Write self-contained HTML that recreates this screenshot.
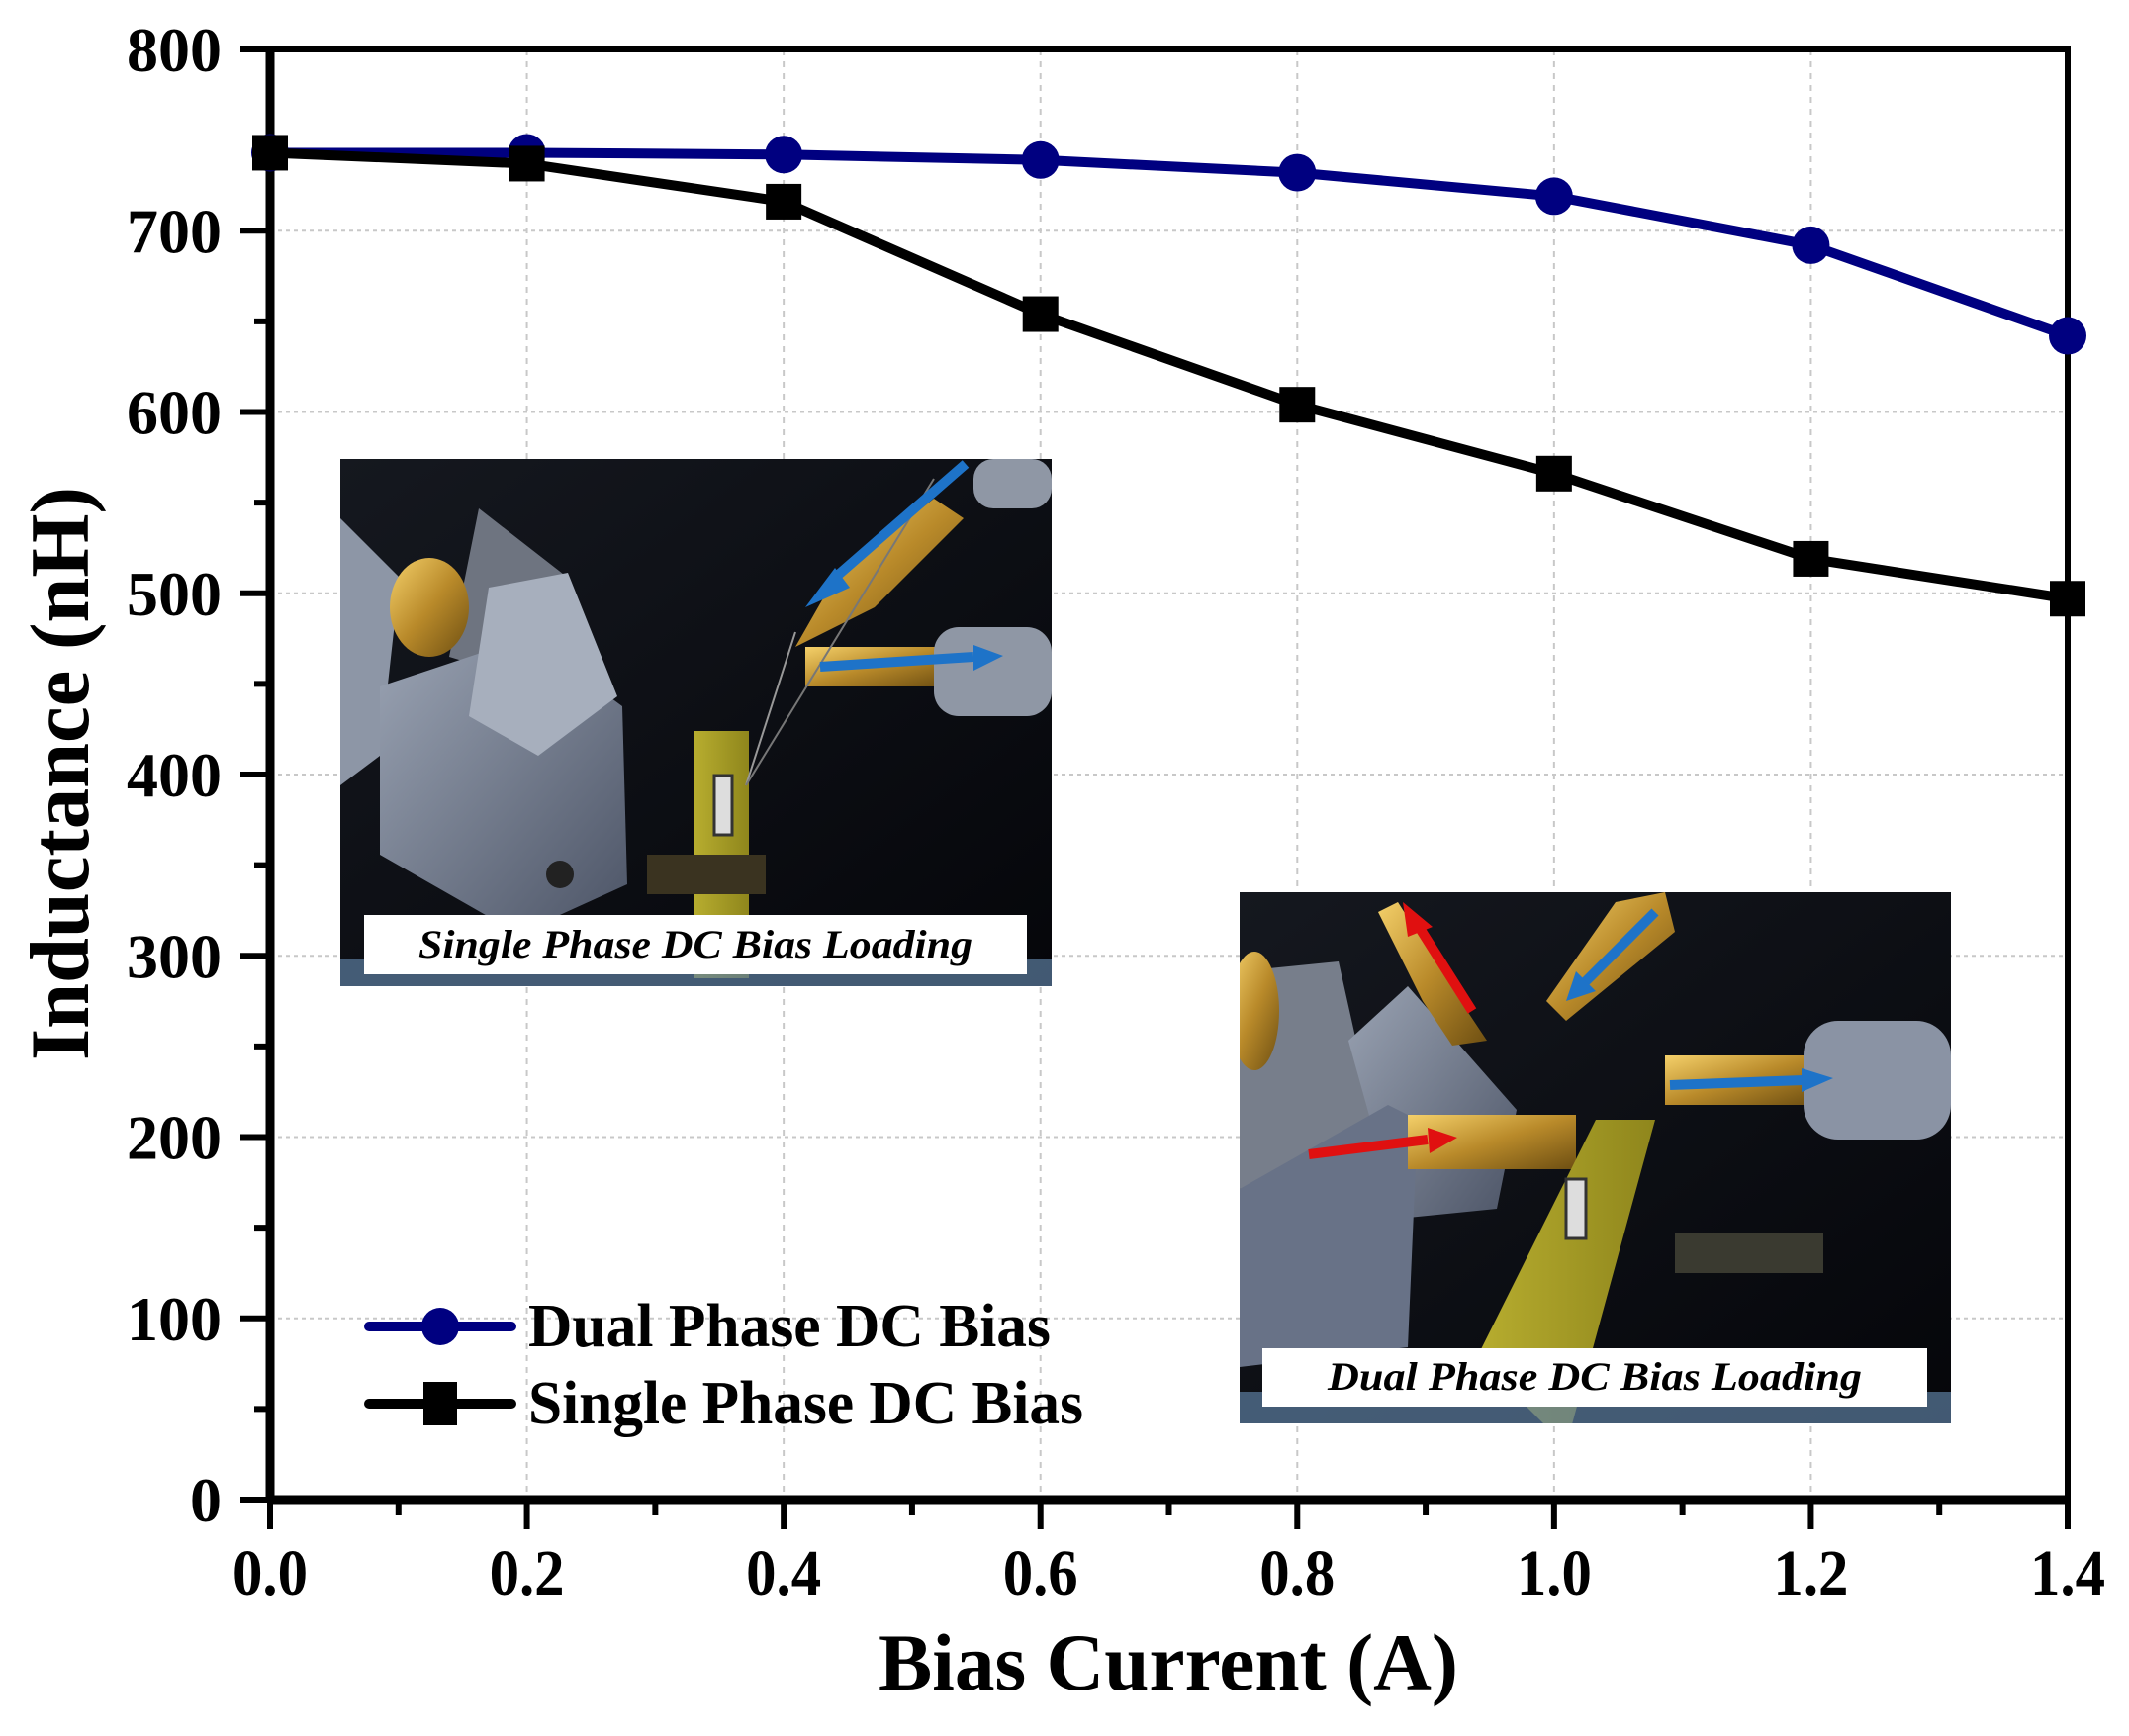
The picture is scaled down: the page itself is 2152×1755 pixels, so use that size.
<!DOCTYPE html>
<html><head><meta charset="utf-8"><style>
html,body{margin:0;padding:0;background:#fff;}
svg{display:block;}
text{font-family:"Liberation Serif",serif;font-weight:bold;}
</style></head><body>
<svg id="chart" width="2152" height="1755" viewBox="0 0 2152 1755" xmlns="http://www.w3.org/2000/svg">
<defs>
<linearGradient id="bg1" x1="0" y1="0" x2="1" y2="1"><stop offset="0" stop-color="#15181f"/><stop offset="1" stop-color="#05060a"/></linearGradient>
<linearGradient id="gold" x1="0" y1="0" x2="1" y2="1"><stop offset="0" stop-color="#f4d06a"/><stop offset="0.5" stop-color="#b98a2a"/><stop offset="1" stop-color="#6e4f12"/></linearGradient>
<linearGradient id="metal" x1="0" y1="0" x2="1" y2="1"><stop offset="0" stop-color="#9aa3b3"/><stop offset="1" stop-color="#4c5466"/></linearGradient>
<linearGradient id="pad" x1="0" y1="0" x2="1" y2="0"><stop offset="0" stop-color="#b7ad2f"/><stop offset="1" stop-color="#8f861c"/></linearGradient>
<clipPath id="clipInset1"><rect width="719" height="533"/></clipPath>
<clipPath id="clipInset2"><rect width="719" height="537"/></clipPath>
</defs>
<g id="grid"></g>
<g id="inset1" transform="translate(344,464)">
 <g clip-path="url(#clipInset1)">
  <rect width="719" height="533" fill="url(#bg1)"/>
  <path d="M0,60 L60,120 L40,300 L0,330 Z" fill="#8d96a6"/>
  <path d="M140,50 L230,120 L210,230 L110,200 Z" fill="#6e7480"/>
  <ellipse cx="90" cy="150" rx="40" ry="50" fill="url(#gold)"/>
  <path d="M40,230 L190,180 L285,250 L290,430 L180,480 L40,400 Z" fill="url(#metal)"/>
  <path d="M150,130 L230,115 L280,240 L200,300 L130,260 Z" fill="#a7afbd"/>
  <circle cx="222" cy="420" r="14" fill="#222"/>
  <rect x="358" y="275" width="55" height="250" fill="url(#pad)"/>
  <rect x="378" y="320" width="18" height="60" fill="#ddd" stroke="#333" stroke-width="3"/>
  <path d="M460,190 L500,120 L600,40 L630,60 L540,150 Z" fill="url(#gold)"/>
  <rect x="470" y="190" width="140" height="40" fill="url(#gold)"/>
  <rect x="600" y="170" width="119" height="90" rx="25" fill="#8f97a5"/>
  <rect x="640" y="0" width="79" height="50" rx="20" fill="#8f97a5"/>
  <rect x="310" y="400" width="120" height="40" fill="#3a3320"/>
  <line x1="460" y1="175" x2="410" y2="330" stroke="#999" stroke-width="2"/>
  <line x1="600" y1="20" x2="410" y2="330" stroke="#777" stroke-width="2"/>
  <path d="M632,5 L500,120" stroke="#1e73c8" stroke-width="10"/>
  <path d="M470,150 L500,110 L515,130 Z" fill="#1e73c8"/>
  <path d="M485,210 L640,200" stroke="#1e73c8" stroke-width="10"/>
  <path d="M640,188 L670,199 L640,214 Z" fill="#1e73c8"/>
  <rect x="0" y="505" width="719" height="28" fill="#5c7ea0" opacity="0.7"/>
 </g>
</g>
<g id="inset2" transform="translate(1253,902)">
 <g clip-path="url(#clipInset2)">
  <rect width="719" height="537" fill="url(#bg1)"/>
  <path d="M0,80 L100,70 L140,250 L0,300 Z" fill="#777e8b"/>
  <ellipse cx="15" cy="120" rx="25" ry="60" fill="url(#gold)"/>
  <path d="M110,150 L170,95 L280,220 L260,320 L160,330 Z" fill="url(#metal)"/>
  <path d="M0,300 L150,215 L180,230 L170,460 L0,480 Z" fill="#687287"/>
  <rect x="170" y="225" width="170" height="55" fill="url(#gold)"/>
  <path d="M240,470 L360,230 L420,230 L330,560 Z" fill="url(#pad)"/>
  <rect x="330" y="290" width="20" height="60" fill="#ddd" stroke="#333" stroke-width="3"/>
  <path d="M160,10 L230,120 L250,150 L215,155 L185,110 L140,20 Z" fill="url(#gold)"/>
  <path d="M380,10 L430,0 L440,40 L330,130 L310,110 Z" fill="url(#gold)"/>
  <rect x="430" y="165" width="150" height="50" fill="url(#gold)"/>
  <rect x="570" y="130" width="149" height="120" rx="35" fill="#8a93a4"/>
  <rect x="440" y="345" width="150" height="40" fill="#3a3a30"/>
  <path d="M235,120 L178,30" stroke="#e01010" stroke-width="10"/>
  <path d="M165,10 L195,35 L170,45 Z" fill="#e01010"/>
  <path d="M70,265 L190,250" stroke="#e01010" stroke-width="10"/>
  <path d="M190,238 L220,248 L192,264 Z" fill="#e01010"/>
  <path d="M420,20 L345,95" stroke="#1e73c8" stroke-width="10"/>
  <path d="M330,110 L340,80 L360,100 Z" fill="#1e73c8"/>
  <path d="M435,195 L570,190" stroke="#1e73c8" stroke-width="10"/>
  <path d="M568,178 L600,188 L568,202 Z" fill="#1e73c8"/>
  <rect x="0" y="505" width="719" height="32" fill="#5c7ea0" opacity="0.7"/>
 </g>
</g>
<rect x="368" y="925" width="670" height="60" fill="#fff"/>
<text x="703" y="968" text-anchor="middle" font-size="40" font-style="italic" textLength="560" lengthAdjust="spacingAndGlyphs">Single Phase DC Bias Loading</text>
<rect x="1276" y="1363" width="672" height="59" fill="#fff"/>
<text x="1612" y="1405" text-anchor="middle" font-size="40" font-style="italic" textLength="540" lengthAdjust="spacingAndGlyphs">Dual Phase DC Bias Loading</text>
<g id="axes"></g>
<g id="series"></g>
<g id="legend">
  <g>
    <line x1="373" y1="1341" x2="517" y2="1341" stroke="#000080" stroke-width="10" stroke-linecap="round"/>
    <circle cx="445" cy="1341" r="19" fill="#000080"/>
    <text x="534" y="1361" font-size="62" textLength="528" lengthAdjust="spacingAndGlyphs">Dual Phase DC Bias</text>
  </g>
  <g>
    <line x1="373" y1="1419" x2="517" y2="1419" stroke="#000" stroke-width="10" stroke-linecap="round"/>
    <rect x="428" y="1397" width="34" height="44" fill="#000"/>
    <text x="534" y="1439" font-size="62" textLength="561" lengthAdjust="spacingAndGlyphs">Single Phase DC Bias</text>
  </g>
</g>
<text x="1181" y="1708" text-anchor="middle" font-size="82" textLength="586" lengthAdjust="spacingAndGlyphs">Bias Current (A)</text>
<text transform="translate(89,782) rotate(-90)" text-anchor="middle" font-size="85" textLength="580" lengthAdjust="spacingAndGlyphs">Inductance (nH)</text>
</svg>
<script>
const xCategories = [0, 0.2, 0.4, 0.6, 0.8, 1.0, 1.2, 1.4];
const dualPhase = [743, 743, 742, 739, 732, 719, 692, 642];
const singlePhase = [743, 737, 716, 654, 604, 566, 519, 497];
const xTickLabels = ["0.0","0.2","0.4","0.6","0.8","1.0","1.2","1.4"];
const yTickValues = [0,100,200,300,400,500,600,700,800];

const NS = "http://www.w3.org/2000/svg";
const X0 = 273, X1 = 2090, Y0 = 1516, Y1 = 50;
function sx(v){ return X0 + (v-0)/(1.4-0)*(X1-X0); }
function sy(v){ return Y0 - (v-0)/(800-0)*(Y0-Y1); }
function mk(tag, attrs, parent){ const e=document.createElementNS(NS,tag); for(const k in attrs) e.setAttribute(k,attrs[k]); parent.appendChild(e); return e; }

const gridG = document.getElementById('grid');
xCategories.forEach(function(v){
  const l = mk('line',{x1:sx(v),x2:sx(v),y1:Y1,y2:Y0,stroke:'#c8c8c8','stroke-width':2,'stroke-dasharray':'6,6'},gridG);
  
  
});
yTickValues.forEach(function(v){
  const l = mk('line',{x1:X0,x2:X1,y1:sy(v),y2:sy(v),stroke:'#c8c8c8','stroke-width':2,'stroke-dasharray':'4,4'},gridG);
  
  
});

const axesG = document.getElementById('axes');
const frame = mk('rect',{x:X0,y:Y1,width:X1-X0,height:Y0-Y1,fill:'none',stroke:'#000','stroke-width':6},axesG);


const leftAxis = mk('line',{x1:X0,x2:X0,y1:Y1-3,y2:Y0+3,stroke:'#000','stroke-width':9},axesG);


const bottomAxis = mk('line',{x1:X0-3,x2:X1+3,y1:Y0,y2:Y0,stroke:'#000','stroke-width':9},axesG);


xTickLabels.forEach(function(lab,i){
  const v = xCategories[i];
  const t = mk('line',{x1:sx(v),x2:sx(v),y1:Y0,y2:Y0+30,stroke:'#000','stroke-width':6},axesG);
  
  
  if(i < xTickLabels.length-1){
    const m = mk('line',{x1:sx(v+0.1),x2:sx(v+0.1),y1:Y0,y2:Y0+16,stroke:'#000','stroke-width':6},axesG);
    
    
  }
  const tx = mk('text',{x:sx(v),y:1612,'text-anchor':'middle','font-size':66,textLength:76,lengthAdjust:'spacingAndGlyphs'},axesG);
  tx.textContent = lab;
  
  
});
yTickValues.forEach(function(v,i){
  const t = mk('line',{x1:X0-30,x2:X0,y1:sy(v),y2:sy(v),stroke:'#000','stroke-width':6},axesG);
  
  
  if(i < yTickValues.length-1){
    const m = mk('line',{x1:X0-16,x2:X0,y1:sy(v+50),y2:sy(v+50),stroke:'#000','stroke-width':6},axesG);
    
    
  }
  const tx = mk('text',{x:224,y:sy(v)+22,'text-anchor':'end','font-size':64},axesG);
  tx.textContent = String(v);
  
  
});

const seriesG = document.getElementById('series');
function drawSeries(vals, color, shape, name){
  const pts = vals.map(function(v,i){ return sx(xCategories[i])+','+sy(v); }).join(' ');
  const pl = mk('polyline',{points:pts,fill:'none',stroke:color,'stroke-width':10,'stroke-linejoin':'round'},seriesG);
  
  
  vals.forEach(function(v,i){
    let m;
    if(shape==='circle'){
      m = mk('circle',{cx:sx(xCategories[i]),cy:sy(v),r:19,fill:color},seriesG);
    } else {
      m = mk('rect',{x:sx(xCategories[i])-18,y:sy(v)-18,width:36,height:36,fill:color},seriesG);
    }
    
    
  });
}
drawSeries(dualPhase,'#000080','circle','dual-phase');
drawSeries(singlePhase,'#000000','square','single-phase');
</script>
</body></html>
